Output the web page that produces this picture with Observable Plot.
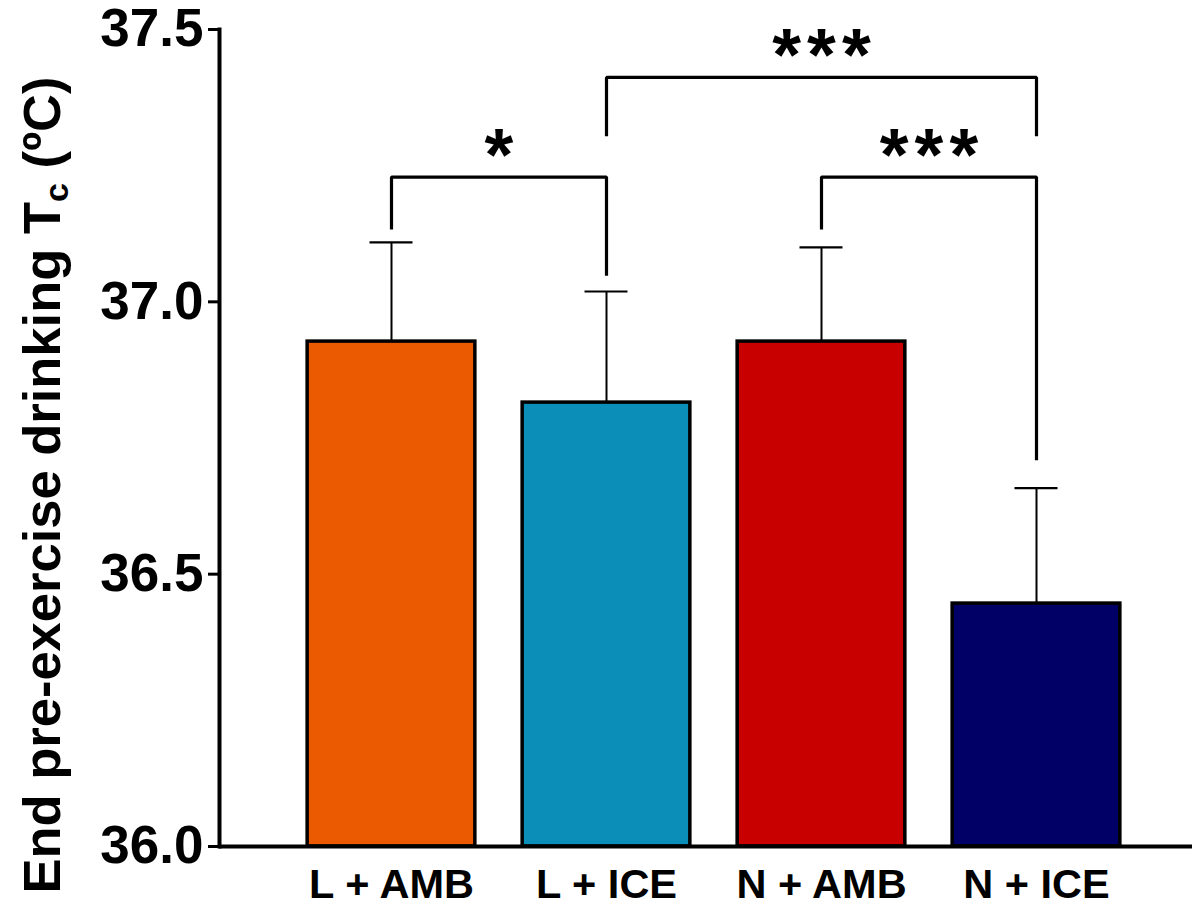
<!DOCTYPE html>
<html><head><meta charset="utf-8">
<script src="https://cdn.jsdelivr.net/npm/d3@7"></script>
<script src="https://cdn.jsdelivr.net/npm/@observablehq/plot@0.6"></script>
<style>body{margin:0;background:#fff}</style>
</head><body><div id="chart"></div>
<script>
const groups = ["L + AMB", "L + ICE", "N + AMB", "N + ICE"];
const means = [36.927, 36.815, 36.927, 36.446];
const sds = [0.182, 0.204, 0.173, 0.212];
const colors = ["#EB5A00", "#0B8EB7", "#C80000", "#000066"];
const yTicks = [36.0, 36.5, 37.0, 37.5];
const bracketFrom = ["L + AMB", "N + AMB", "L + ICE"];
const bracketTo = ["L + ICE", "N + ICE", "N + ICE"];
const bracketY = [37.229, 37.229, 37.412];
const bracketFromY = [37.133, 37.133, 37.304];
const bracketToY = [37.048, 36.709, 37.304];
const bracketLabels = ["*", "***", "***"];

const data = groups.map((g, i) => ({g, i, mean: means[i], sd: sds[i], color: colors[i]}));
const idx = g => groups.indexOf(g);
const brackets = bracketFrom.map((f, k) => ({
  id: k, a: idx(f), b: idx(bracketTo[k]), y: bracketY[k], ya: bracketFromY[k], yb: bracketToY[k], label: bracketLabels[k]
}));
const bracketPts = brackets.flatMap(d => [
  {id: d.id, x: d.a, y: d.ya},
  {id: d.id, x: d.a, y: d.y},
  {id: d.id, x: d.b, y: d.y},
  {id: d.id, x: d.b, y: d.yb}
]);

const font = "'Liberation Sans', Arial, Helvetica, sans-serif";
const W = 1192, H = 905, ML = 219, MR = 0, MT = 29, MB = 59;
const step = 215, c0 = 391;
const starSpacing = 6;
const plot = Plot.plot({
  width: W, height: H,
  marginLeft: ML, marginRight: MR, marginTop: MT, marginBottom: MB,
  style: {fontFamily: font, fontWeight: "bold", color: "black", background: "white", overflow: "visible"},
  x: {type: "linear", domain: [(ML - c0) / step, (W - MR - c0) / step]},
  y: {domain: [36, 37.5]},
  marks: [
    Plot.rectY(data, {x1: d => d.i - 0.39, x2: d => d.i + 0.39, y1: 36, y2: "mean", fill: "color", stroke: "black", strokeWidth: 3.5}),
    Plot.ruleX(data, {x: "i", y1: "mean", y2: d => d.mean + d.sd, stroke: "black", strokeWidth: 2}),
    Plot.ruleY(data, {y: d => d.mean + d.sd, x1: d => d.i - 0.1, x2: d => d.i + 0.1, stroke: "black", strokeWidth: 2.2}),
    Plot.line(bracketPts, {x: "x", y: "y", z: "id", stroke: "black", strokeWidth: 3.2, strokeLinejoin: "miter", strokeLinecap: "butt"}),
    Plot.text(brackets, {x: d => (d.a + d.b) / 2, y: "y", text: "label", fontSize: 74, fontWeight: "bold", dy: -21, dx: starSpacing / 2, fill: "black", className: "stars"}),
    Plot.ruleY([36], {stroke: "black", strokeWidth: 4}),
    Plot.frame({anchor: "left", stroke: "black", strokeWidth: 4}),
    Plot.axisY({ticks: yTicks, tickSize: 11, tickPadding: 5, fontSize: 53, tickFormat: d => d.toFixed(1), strokeWidth: 3, label: null}),
    Plot.axisX({ticks: [0, 1, 2, 3], tickSize: 0, tickPadding: 22, fontSize: 41.5, tickFormat: i => groups[i], label: null})
  ]
});
document.getElementById("chart").appendChild(plot);

const svg = d3.select(plot);
svg.selectAll(".stars text").attr("letter-spacing", starSpacing);

// rotated y-axis label with subscript
const t = svg.append("text")
  .attr("transform", "translate(60,485) rotate(-90)")
  .attr("text-anchor", "middle")
  .attr("font-family", font)
  .attr("font-weight", "bold")
  .attr("font-size", 52.5)
  .attr("fill", "black");
t.append("tspan").text("End pre-exercise drinking T");
t.append("tspan").attr("font-size", 34).attr("dy", 8).text("c");
t.append("tspan").attr("dy", -8).text(" (ºC)");
</script>
</body></html>
